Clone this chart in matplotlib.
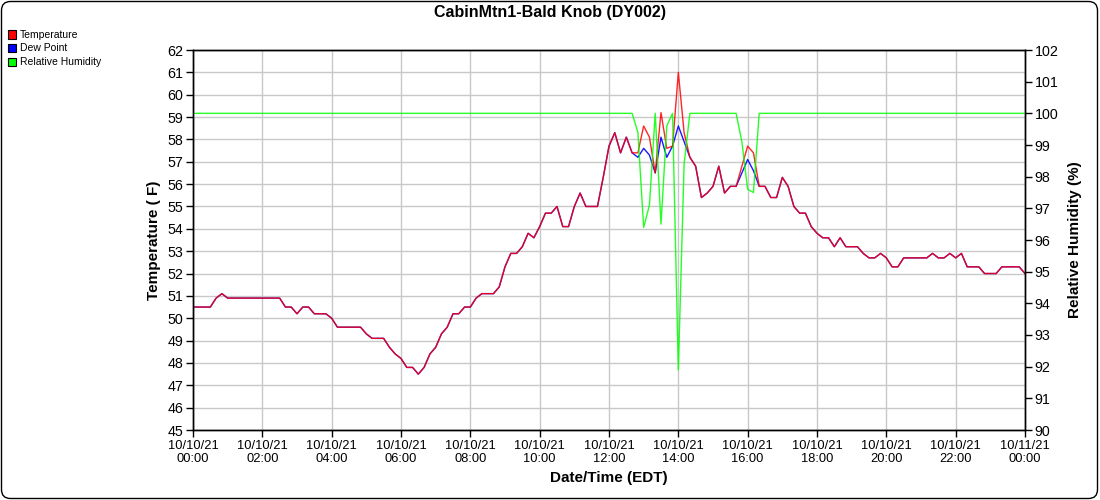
import matplotlib
matplotlib.use("Agg")
import matplotlib.pyplot as plt
import matplotlib.dates as mdates
from matplotlib.patches import FancyBboxPatch, Rectangle
import pandas as pd

plt.rcParams['font.family'] = ['Liberation Sans', 'DejaVu Sans']

# ---- data (10-minute readings, 10/10/21 00:00 .. 10/11/21 00:00) ----
title = "CabinMtn1-Bald Knob (DY002)"
start_time = "2021-10-10 00:00"
end_time = "2021-10-11 00:00"

temperature = [
    50.5, 50.5, 50.5, 50.5, 50.9, 51.1, 50.9, 50.9, 50.9, 50.9,
    50.9, 50.9, 50.9, 50.9, 50.9, 50.9, 50.5, 50.5, 50.2, 50.5,
    50.5, 50.2, 50.2, 50.2, 50.0, 49.6, 49.6, 49.6, 49.6, 49.6,
    49.3, 49.1, 49.1, 49.1, 48.7, 48.4, 48.2, 47.8, 47.8, 47.5,
    47.8, 48.4, 48.7, 49.3, 49.6, 50.2, 50.2, 50.5, 50.5, 50.9,
    51.1, 51.1, 51.1, 51.4, 52.3, 52.9, 52.9, 53.2, 53.8, 53.6,
    54.1, 54.7, 54.7, 55.0, 54.1, 54.1, 55.0, 55.6, 55.0, 55.0,
    55.0, 56.3, 57.7, 58.3, 57.4, 58.1, 57.4, 57.4, 58.6, 58.1,
    56.5, 59.2, 57.6, 57.7, 61.0, 58.3, 57.2, 56.8, 55.4, 55.6,
    55.9, 56.8, 55.6, 55.9, 55.9, 56.8, 57.7, 57.4, 55.9, 55.9,
    55.4, 55.4, 56.3, 55.9, 55.0, 54.7, 54.7, 54.1, 53.8, 53.6,
    53.6, 53.2, 53.6, 53.2, 53.2, 53.2, 52.9, 52.7, 52.7, 52.9,
    52.7, 52.3, 52.3, 52.7, 52.7, 52.7, 52.7, 52.7, 52.9, 52.7,
    52.7, 52.9, 52.7, 52.9, 52.3, 52.3, 52.3, 52.0, 52.0, 52.0,
    52.3, 52.3, 52.3, 52.3, 52.0,
]

dew_point = [
    50.5, 50.5, 50.5, 50.5, 50.9, 51.1, 50.9, 50.9, 50.9, 50.9,
    50.9, 50.9, 50.9, 50.9, 50.9, 50.9, 50.5, 50.5, 50.2, 50.5,
    50.5, 50.2, 50.2, 50.2, 50.0, 49.6, 49.6, 49.6, 49.6, 49.6,
    49.3, 49.1, 49.1, 49.1, 48.7, 48.4, 48.2, 47.8, 47.8, 47.5,
    47.8, 48.4, 48.7, 49.3, 49.6, 50.2, 50.2, 50.5, 50.5, 50.9,
    51.1, 51.1, 51.1, 51.4, 52.3, 52.9, 52.9, 53.2, 53.8, 53.6,
    54.1, 54.7, 54.7, 55.0, 54.1, 54.1, 55.0, 55.6, 55.0, 55.0,
    55.0, 56.3, 57.7, 58.3, 57.4, 58.1, 57.4, 57.2, 57.6, 57.3,
    56.5, 58.1, 57.2, 57.7, 58.6, 57.9, 57.2, 56.8, 55.4, 55.6,
    55.9, 56.8, 55.6, 55.9, 55.9, 56.5, 57.1, 56.6, 55.9, 55.9,
    55.4, 55.4, 56.3, 55.9, 55.0, 54.7, 54.7, 54.1, 53.8, 53.6,
    53.6, 53.2, 53.6, 53.2, 53.2, 53.2, 52.9, 52.7, 52.7, 52.9,
    52.7, 52.3, 52.3, 52.7, 52.7, 52.7, 52.7, 52.7, 52.9, 52.7,
    52.7, 52.9, 52.7, 52.9, 52.3, 52.3, 52.3, 52.0, 52.0, 52.0,
    52.3, 52.3, 52.3, 52.3, 52.0,
]

relative_humidity = [
    100, 100, 100, 100, 100, 100, 100, 100, 100, 100,
    100, 100, 100, 100, 100, 100, 100, 100, 100, 100,
    100, 100, 100, 100, 100, 100, 100, 100, 100, 100,
    100, 100, 100, 100, 100, 100, 100, 100, 100, 100,
    100, 100, 100, 100, 100, 100, 100, 100, 100, 100,
    100, 100, 100, 100, 100, 100, 100, 100, 100, 100,
    100, 100, 100, 100, 100, 100, 100, 100, 100, 100,
    100, 100, 100, 100, 100, 100, 100, 99.4, 96.4, 97.1,
    100, 96.5, 99.6, 100, 91.9, 98.4, 100, 100, 100, 100,
    100, 100, 100, 100, 100, 99.1, 97.6, 97.5, 100, 100,
    100, 100, 100, 100, 100, 100, 100, 100, 100, 100,
    100, 100, 100, 100, 100, 100, 100, 100, 100, 100,
    100, 100, 100, 100, 100, 100, 100, 100, 100, 100,
    100, 100, 100, 100, 100, 100, 100, 100, 100, 100,
    100, 100, 100, 100, 100,
]

series_names = ["Temperature", "Dew Point", "Relative Humidity"]
series_colors = ["#ff0000", "#0000ff", "#00ff00"]

times = pd.date_range(start_time, periods=len(temperature), freq="10min")

# ---- figure ----
W, H = 1100, 500
fig = plt.figure(figsize=(W / 100, H / 100), dpi=100)
ax = fig.add_axes([193 / W, 70 / H, 832 / W, 380 / H])
ax2 = ax.twinx()

ax.plot(times, dew_point, color=series_colors[1], lw=1.0, alpha=0.9)
ax.plot(times, temperature, color=series_colors[0], lw=1.0, alpha=0.85)
# RH on right axis (drawn on top)
ax2.plot(times, relative_humidity, color=series_colors[2], lw=1.0, alpha=0.85)

ax.set_ylim(45, 62)
ax.set_yticks(range(45, 63))
ax2.set_ylim(90, 102)
ax2.set_yticks(range(90, 103))

ax.set_xlim(pd.Timestamp(start_time), pd.Timestamp(end_time))
ax.xaxis.set_major_locator(mdates.HourLocator(byhour=range(0, 24, 2)))
ax.xaxis.set_major_formatter(mdates.DateFormatter("%m/%d/%y\n%H:%M"))

ax.grid(True, color="#c8c8c8", lw=1.0)
ax.set_axisbelow(True)

for a in (ax, ax2):
    for s in a.spines.values():
        s.set_color("black")
        s.set_linewidth(1.0)
    a.tick_params(direction="out", length=5, width=1.0, colors="black", pad=2)

ax.tick_params(axis="y", labelsize=10.3)
ax2.tick_params(axis="y", labelsize=10.3)
ax.tick_params(axis="x", labelsize=9.3, pad=2)
for lbl in ax.get_xticklabels():
    lbl.set_linespacing(1.15)

# labels
fig.text(550 / W, 1 - 13 / H, title, ha="center", va="center",
         fontsize=11.5, fontweight="bold")
fig.text(154 / W, 1 - 240 / H, "Temperature ( F)", ha="center", va="center",
         rotation=90, fontsize=11, fontweight="bold")
fig.text(1075 / W, 1 - 240 / H, "Relative Humidity (%)", ha="center", va="center",
         rotation=90, fontsize=11, fontweight="bold")
fig.text(609 / W, 1 - 478 / H, "Date/Time (EDT)", ha="center", va="center",
         fontsize=11, fontweight="bold")

# legend (top-left)
legend_y = [34.5, 48, 62]
for name, col, yy in zip(series_names, series_colors, legend_y):
    fig.add_artist(Rectangle((8 / W, 1 - (yy + 4) / H), 8 / W, 8 / H,
                             transform=fig.transFigure, facecolor=col,
                             edgecolor="black", lw=0.8))
    fig.text(20 / W, 1 - yy / H, name, ha="left", va="center", fontsize=7.5)

# outer rounded border
fig.patches.append(FancyBboxPatch((1.5, 1.5), 1096, 497,
                                  boxstyle="round,pad=0,rounding_size=9",
                                  transform=None, fill=False,
                                  edgecolor="black", lw=1.0))

fig.savefig("out.png", dpi=100)
